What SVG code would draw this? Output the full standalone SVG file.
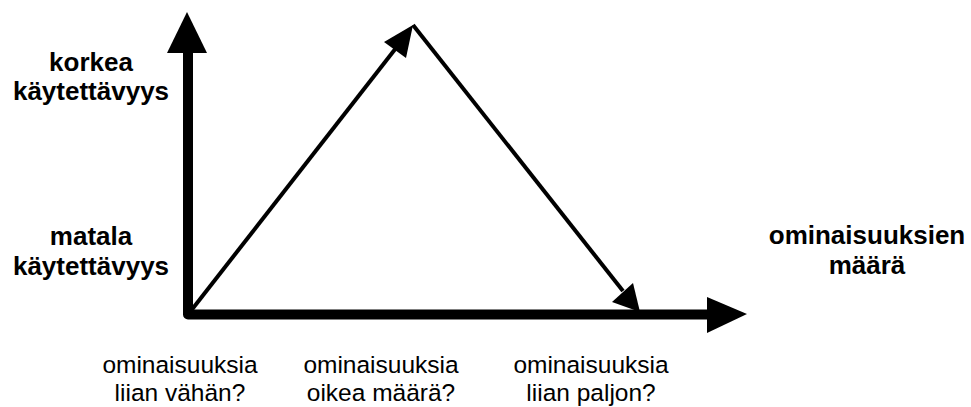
<svg xmlns="http://www.w3.org/2000/svg" width="971" height="407" viewBox="0 0 971 407">
<style>
.b{font-family:"Liberation Sans",Arial,sans-serif;font-weight:bold;font-size:26px;fill:#000;text-anchor:middle}
.r{font-family:"Liberation Sans",Arial,sans-serif;font-size:24.5px;fill:#000;text-anchor:middle}
.ax{fill:none;stroke:#000;stroke-width:10;stroke-linejoin:round}
.dg{fill:none;stroke:#000;stroke-width:4}
.ah{fill:#000}
</style>
<rect width="971" height="407" fill="#fff"/>
<g id="connectors">
<path class="ax" d="M188,50 L188,314.5 L710,314.5"/>
<polygon class="ah" points="187,12 207,53 167,53"/>
<polygon class="ah" points="747,314 707,297 707,333"/>
<line class="dg" x1="190" y1="312" x2="396" y2="48"/>
<polygon class="ah" points="413,25 384,42 406,58"/>
<line class="dg" x1="413" y1="25" x2="623" y2="291"/>
<polygon class="ah" points="640,312 612,302 633,283"/>
</g>
<g id="label-korkea">
<text class="b" x="91" y="71">korkea</text>
<text class="b" x="91" y="100">käytettävyys</text>
</g>
<g id="label-matala">
<text class="b" x="91" y="245">matala</text>
<text class="b" x="91" y="275">käytettävyys</text>
</g>
<g id="label-maara">
<text class="b" x="867" y="244">ominaisuuksien</text>
<text class="b" x="867" y="274">määrä</text>
</g>
<g id="label-vahan">
<text class="r" x="180" y="373">ominaisuuksia</text>
<text class="r" x="180" y="401">liian vähän?</text>
</g>
<g id="label-oikea">
<text class="r" x="381" y="373">ominaisuuksia</text>
<text class="r" x="381" y="401">oikea määrä?</text>
</g>
<g id="label-paljon">
<text class="r" x="591" y="373">ominaisuuksia</text>
<text class="r" x="591" y="401">liian paljon?</text>
</g>
</svg>
